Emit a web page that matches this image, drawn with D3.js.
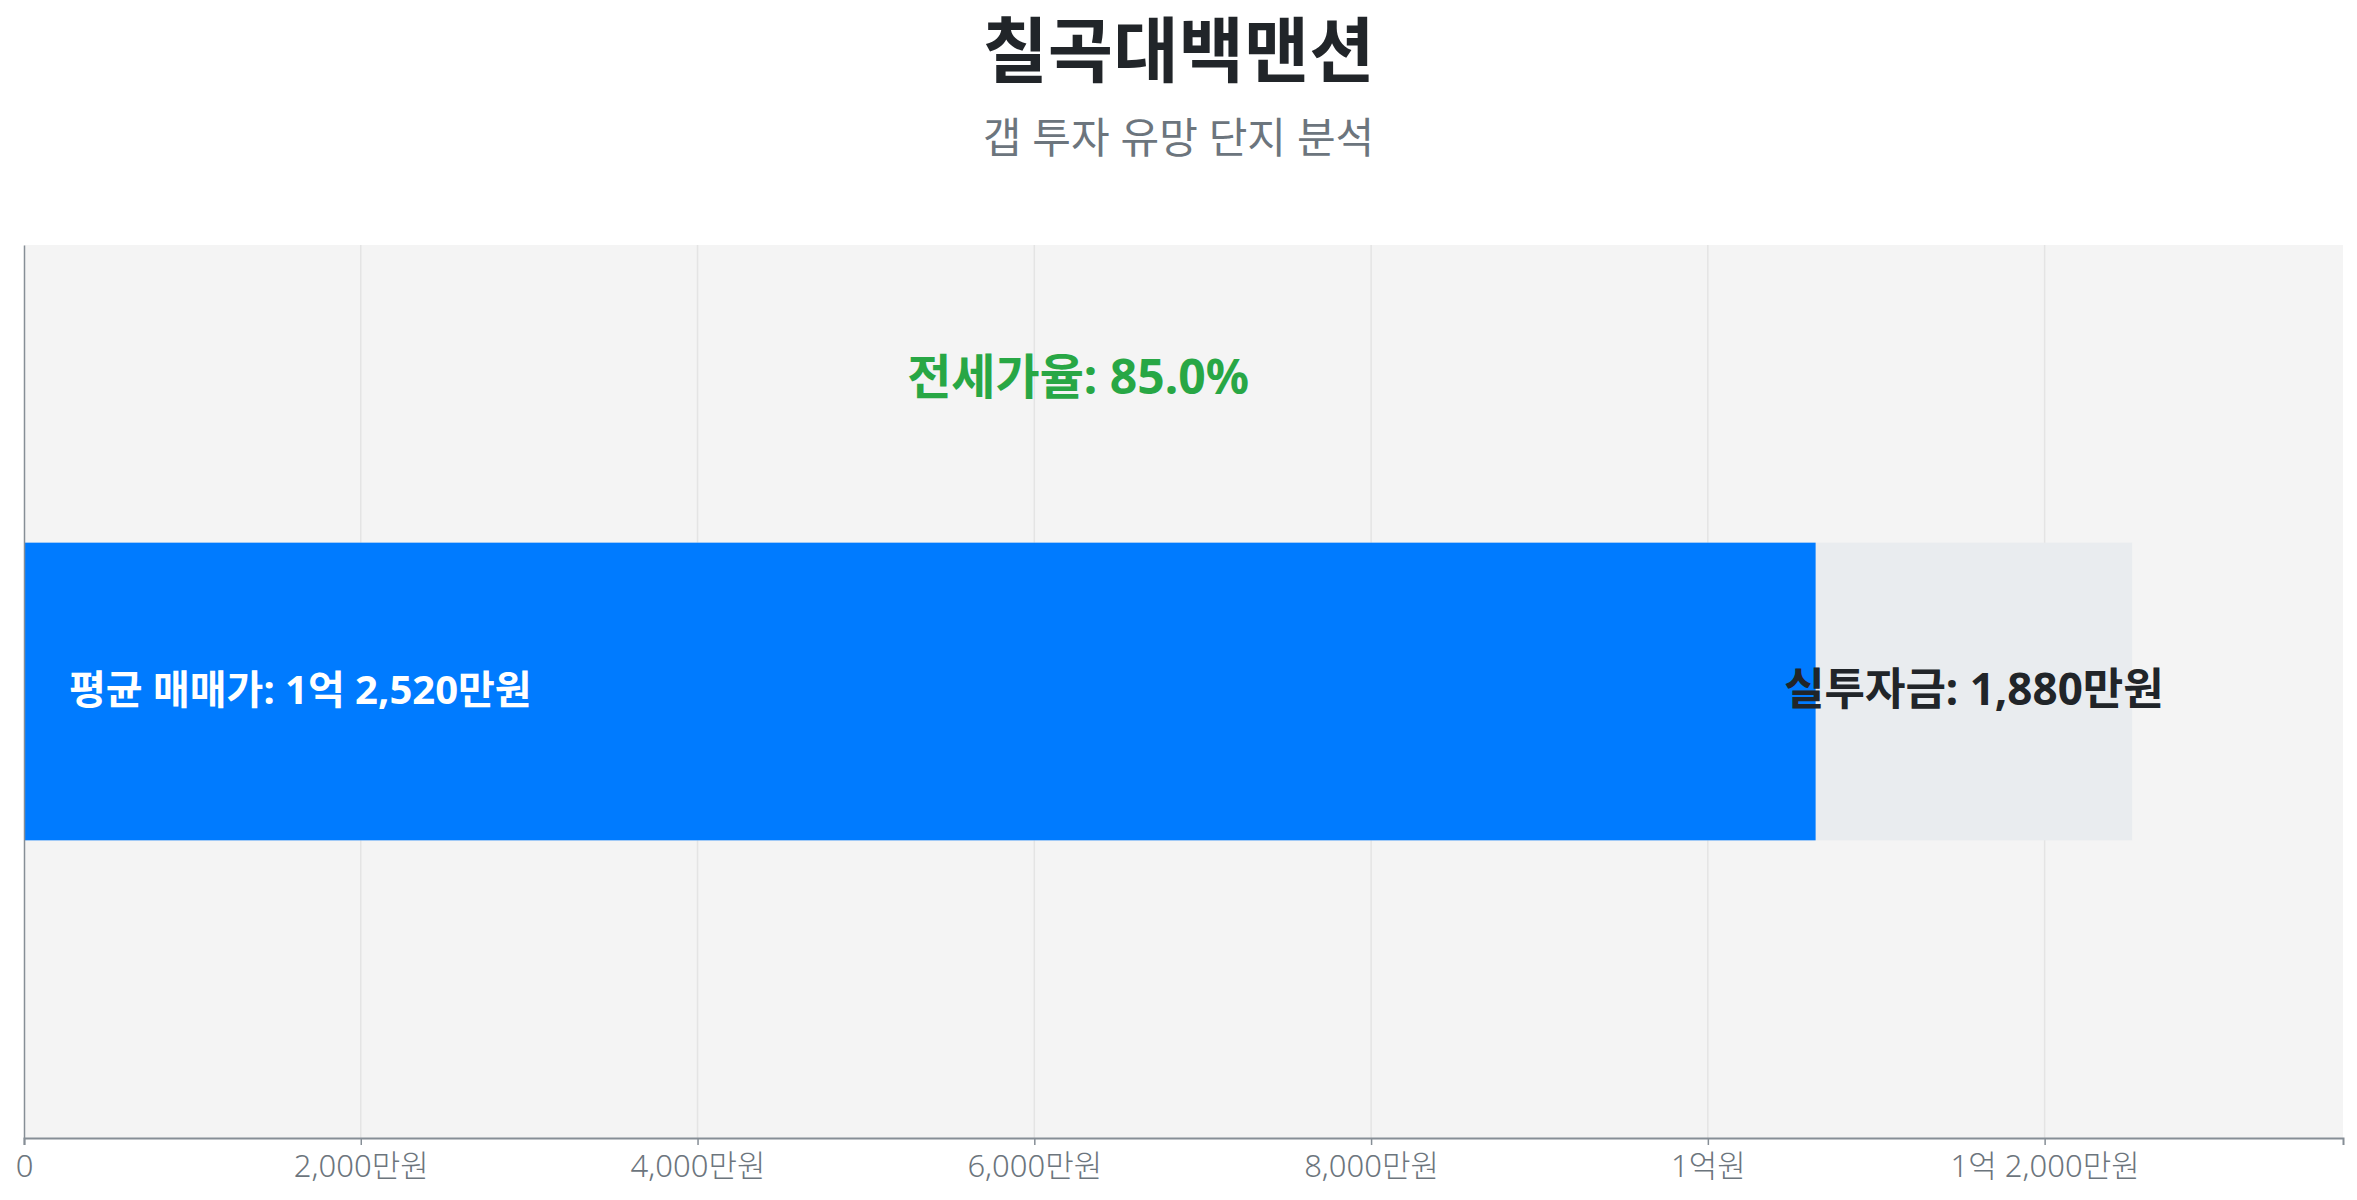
<!DOCTYPE html>
<html lang='ko'>
<head>
  <meta charset='UTF-8'>
  <title>칠곡대백맨션 갭 투자 분석</title>
  <script src='https://d3js.org/d3.v7.min.js'></script>
  <style>
    html, body { margin: 0; padding: 0; background: #fff; }
    #main { width: 2357px; height: 1200px; }
    text { font-family: 'Noto Sans', 'Noto Sans CJK KR', sans-serif; }
  </style>
</head>
<body>
<div id='main'></div>
<script>
  // 데이터 (단위: 만원)
  const complexNames = ['칠곡대백맨션']
  const avgPrices = [12520]
  const jeonsePrices = [10640]
  const tickValues = [0, 2000, 4000, 6000, 8000, 10000, 12000]
  const tickLabels = ['0', '2,000만원', '4,000만원', '6,000만원', '8,000만원', '1억원', '1억 2,000만원']

  const width = 2357
  const height = 1200
  const margin = {top: 245, right: 14, bottom: 62, left: 24}
  const innerW = width - margin.left - margin.right
  const innerH = height - margin.top - margin.bottom

  // 금액 표기
  function won (v) {
    const eok = Math.floor(v / 10000)
    const man = Math.round(v % 10000)
    if (eok > 0 && man > 0) return eok + '억 ' + d3.format(',')(man) + '만원'
    if (eok > 0) return eok + '억원'
    return d3.format(',')(man) + '만원'
  }

  const rows = complexNames.map((name, i) => {
    const price = avgPrices[i]
    const jeonse = jeonsePrices[i]
    return {name, price, jeonse, gap: price - jeonse, ratio: jeonse / price * 100}
  })

  const svg = d3.select('#main').append('svg')
    .attr('width', width)
    .attr('height', height)

  // 제목
  svg.append('text')
    .attr('x', width / 2).attr('y', 76)
    .attr('text-anchor', 'middle')
    .style('font-size', '71px').style('font-weight', 700)
    .style('fill', '#212529')
    .text(complexNames[0])

  svg.append('text')
    .attr('x', width / 2).attr('y', 153)
    .attr('text-anchor', 'middle')
    .style('font-size', '42px')
    .style('fill', '#6c757d')
    .text('갭 투자 유망 단지 분석')

  const g = svg.append('g').attr('transform', `translate(${margin.left},${margin.top})`)

  const x = d3.scaleLinear()
    .domain([0, d3.max(rows, d => d.price) * 1.1])
    .range([0, innerW])
  const y = d3.scaleBand()
    .domain(rows.map(d => d.name))
    .range([0, innerH])
    .padding(0.5)

  // 배경
  g.append('rect')
    .attr('width', innerW).attr('height', innerH)
    .attr('fill', '#f4f4f4')

  // 그리드
  g.append('g')
    .selectAll('line')
    .data(tickValues.slice(1))
    .join('line')
    .attr('x1', d => x(d)).attr('x2', d => x(d))
    .attr('y1', 0).attr('y2', innerH)
    .attr('stroke', '#e4e4e4')
    .attr('stroke-width', 1.5)

  // 매매가 (회색) + 전세가 (파랑)
  g.selectAll('.price-bar')
    .data(rows).join('rect')
    .attr('class', 'price-bar')
    .attr('x', 0).attr('y', d => y(d.name))
    .attr('width', d => x(d.price))
    .attr('height', y.bandwidth())
    .attr('fill', '#e9ecef')

  g.selectAll('.jeonse-bar')
    .data(rows).join('rect')
    .attr('class', 'jeonse-bar')
    .attr('x', 0).attr('y', d => y(d.name))
    .attr('width', d => x(d.jeonse))
    .attr('height', y.bandwidth())
    .attr('fill', '#007bff')

  // 라벨
  g.selectAll('.price-label')
    .data(rows).join('text')
    .attr('class', 'price-label')
    .attr('x', 45)
    .attr('y', d => y(d.name) + y.bandwidth() / 2)
    .attr('dy', '0.3em')
    .style('font-size', '40px').style('font-weight', 700)
    .style('fill', '#fff')
    .text(d => '평균 매매가: ' + won(d.price))

  g.selectAll('.gap-label')
    .data(rows).join('text')
    .attr('class', 'gap-label')
    .attr('x', d => (x(d.jeonse) + x(d.price)) / 2)
    .attr('y', d => y(d.name) + y.bandwidth() / 2)
    .attr('dy', '0.3em')
    .attr('text-anchor', 'middle')
    .style('font-size', '44px').style('font-weight', 700)
    .style('fill', '#212529')
    .text(d => '실투자금: ' + won(d.gap))

  g.selectAll('.ratio-label')
    .data(rows).join('text')
    .attr('class', 'ratio-label')
    .attr('x', d => x(d.price / 2))
    .attr('y', d => y(d.name) / 2)
    .attr('text-anchor', 'middle')
    .style('font-size', '48px').style('font-weight', 700)
    .style('fill', '#28a745')
    .text(d => '전세가율: ' + d.ratio.toFixed(1) + '%')

  // 축
  const xAxis = g.append('g')
    .attr('transform', `translate(0,${innerH})`)
    .call(d3.axisBottom(x).tickValues(tickValues).tickFormat((d, i) => tickLabels[i]).tickSize(7).tickPadding(10))
  xAxis.select('.domain').attr('stroke', '#868e96').attr('stroke-width', 2)
  xAxis.selectAll('.tick line').attr('stroke', '#868e96').attr('stroke-width', 1.5)
  xAxis.selectAll('.tick text')
    .style('font-family', "'Noto Sans', 'Noto Sans CJK KR', sans-serif")
    .style('font-size', '31px').style('font-weight', 300)
    .style('fill', '#6c757d')

  const yAxis = g.append('g')
    .call(d3.axisLeft(y).tickSize(0).tickFormat(''))
  yAxis.select('.domain').attr('stroke', '#868e96').attr('stroke-width', 1.5)
</script>
</body>
</html>
